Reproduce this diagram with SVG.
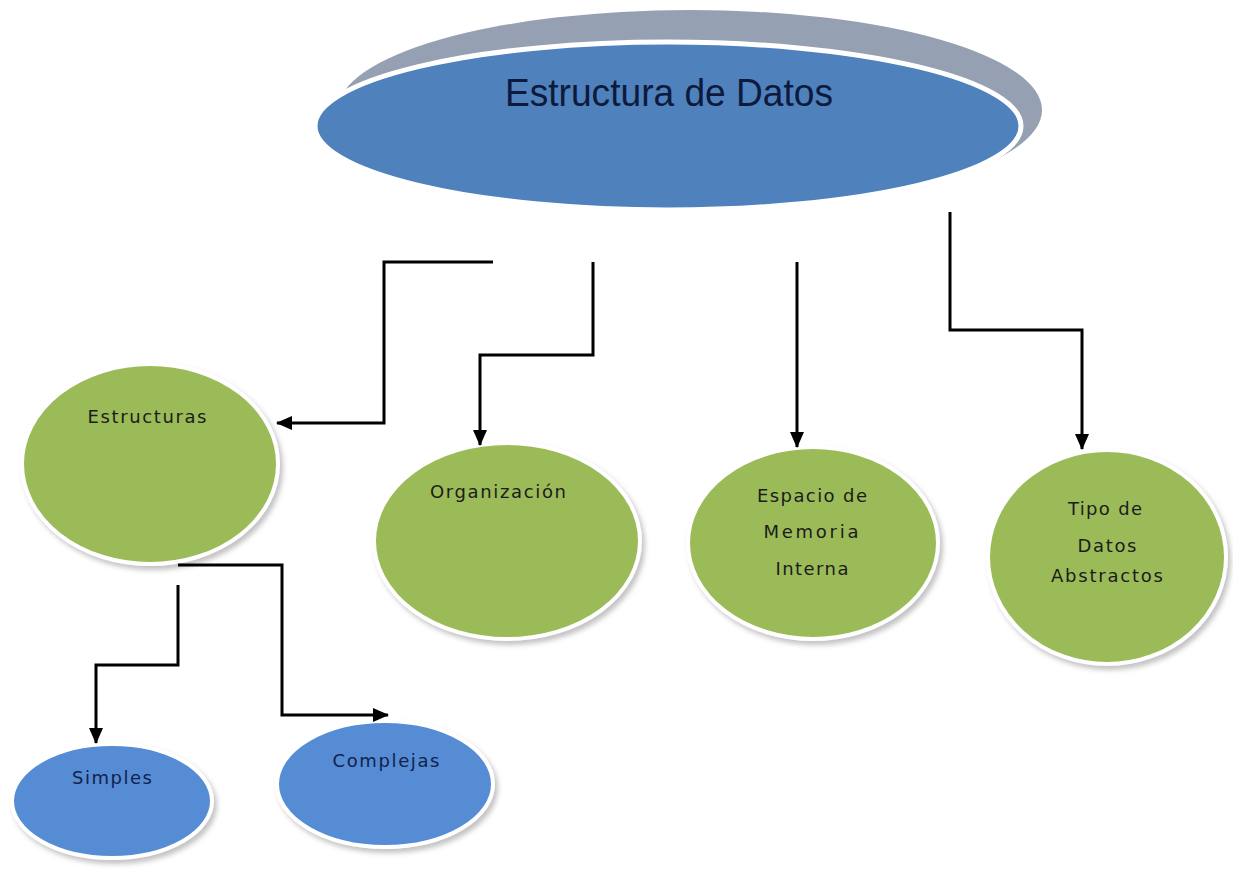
<svg xmlns="http://www.w3.org/2000/svg" width="1233" height="886" viewBox="0 0 1233 886">
  <style>
    .node { stroke: #ffffff; stroke-width: 4; filter: url(#shadow); }
    .green { fill: #9bbb59; }
    .blue { fill: #558cd4; }
    .lbl { font-family: "DejaVu Sans", Verdana, sans-serif; font-size: 18px; text-anchor: middle; fill: #1c1c1c; }
    .lbl-blue { fill: #13214f; }
    .title { font-family: "Liberation Sans", Arial, sans-serif; font-size: 38px; text-anchor: middle; fill: #0d1a3c; }
    .conn { fill: none; stroke: #000000; stroke-width: 3; stroke-linejoin: miter; }
  </style>
  <defs>
    <filter id="shadow" x="-10%" y="-10%" width="125%" height="130%">
      <feDropShadow dx="3" dy="4" stdDeviation="2.5" flood-color="#7a7a7a" flood-opacity="0.45"/>
    </filter>
    <marker id="arrow" viewBox="0 0 16 14" refX="15" refY="7" markerWidth="16" markerHeight="14" markerUnits="userSpaceOnUse" orient="auto">
      <path d="M0,0 L16,7 L0,14 Z" fill="#000000"/>
    </marker>
  </defs>
  <rect width="1233" height="886" fill="#ffffff"/>

  <!-- root: blue ellipse with grey lip behind it -->
  <g id="root">
    <ellipse cx="690" cy="110" rx="352" ry="100" fill="#95a0b2"/>
    <ellipse cx="668" cy="126" rx="353" ry="84" fill="#4f81bd" stroke="#ffffff" stroke-width="5"/>
    <text class="title" x="669" y="106" textLength="328" lengthAdjust="spacingAndGlyphs">Estructura de Datos</text>
  </g>

  <g id="estructuras">
    <ellipse class="node green" cx="150" cy="464" rx="128" ry="100"/>
    <text class="lbl" x="147" y="423" textLength="119" lengthAdjust="spacing">Estructuras</text>
  </g>

  <g id="organizacion">
    <ellipse class="node green" cx="507" cy="541" rx="133" ry="98"/>
    <text class="lbl" x="498" y="498" textLength="136" lengthAdjust="spacing">Organización</text>
  </g>

  <g id="espacio-memoria">
    <ellipse class="node green" cx="813" cy="543" rx="125" ry="96"/>
    <text class="lbl" x="812" y="502" textLength="110" lengthAdjust="spacing">Espacio de</text>
    <text class="lbl" x="811" y="538" textLength="95" lengthAdjust="spacing">Memoria</text>
    <text class="lbl" x="812" y="575" textLength="73" lengthAdjust="spacing">Interna</text>
  </g>

  <g id="tipo-datos">
    <ellipse class="node green" cx="1107" cy="557" rx="119" ry="107"/>
    <text class="lbl" x="1105" y="515" textLength="74" lengthAdjust="spacing">Tipo de</text>
    <text class="lbl" x="1107" y="552" textLength="59" lengthAdjust="spacing">Datos</text>
    <text class="lbl" x="1107" y="582" textLength="112" lengthAdjust="spacing">Abstractos</text>
  </g>

  <g id="simples">
    <ellipse class="node blue" cx="112" cy="801" rx="100" ry="57"/>
    <text class="lbl lbl-blue" x="112" y="784" textLength="80" lengthAdjust="spacing">Simples</text>
  </g>

  <g id="complejas">
    <ellipse class="node blue" cx="385" cy="784" rx="108" ry="63"/>
    <text class="lbl lbl-blue" x="386" y="767" textLength="107" lengthAdjust="spacing">Complejas</text>
  </g>

  <!-- connectors, drawn last so the arrowheads sit on top of the node rims -->
  <g id="connectors">
    <path class="conn" d="M493,262 H384 V423 H277" marker-end="url(#arrow)"/>
    <path class="conn" d="M593,262 V355 H480 V445" marker-end="url(#arrow)"/>
    <path class="conn" d="M797,262 V447" marker-end="url(#arrow)"/>
    <path class="conn" d="M950,212 V330 H1082 V449" marker-end="url(#arrow)"/>
    <path class="conn" d="M178,585 V665 H96 V743" marker-end="url(#arrow)"/>
    <path class="conn" d="M178,565 H282 V715 H388" marker-end="url(#arrow)"/>
  </g>
</svg>
